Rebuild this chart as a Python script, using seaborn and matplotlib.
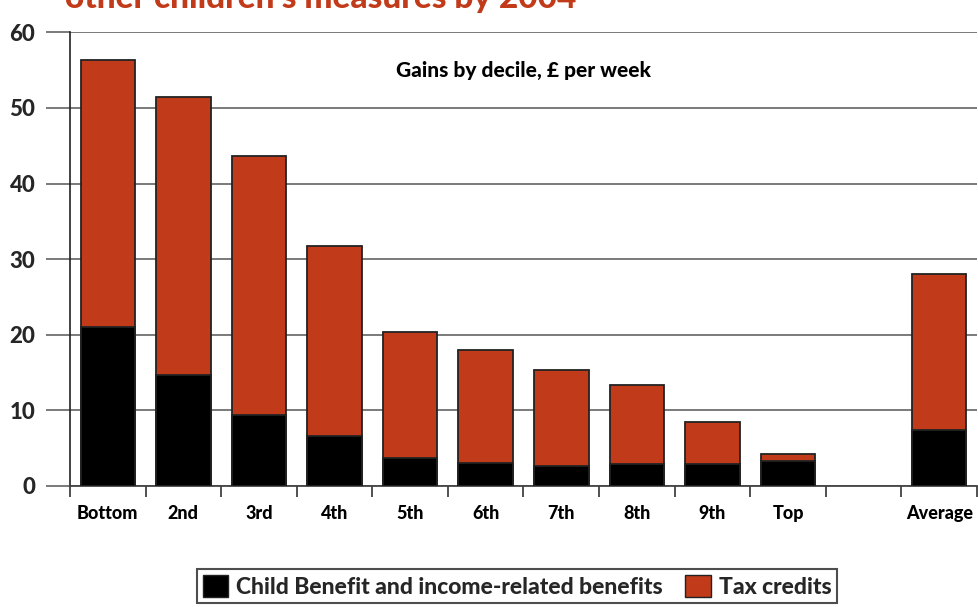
import matplotlib
matplotlib.use("Agg")
import matplotlib.pyplot as plt
import seaborn as sns
import pandas as pd
from matplotlib.patches import Patch
from matplotlib.ticker import FixedLocator

categories = ["Bottom", "2nd", "3rd", "4th", "5th", "6th", "7th", "8th", "9th", "Top", "Average"]
slot_order = ["Bottom", "2nd", "3rd", "4th", "5th", "6th", "7th", "8th", "9th", "Top", " ", "Average"]
benefits = [21.0, 14.7, 9.35, 6.6, 3.7, 3.0, 2.65, 2.85, 2.85, 3.3, 7.4]
tax_credits_total = [56.3, 51.5, 43.6, 31.8, 20.3, 18.0, 15.3, 13.4, 8.5, 4.2, 28.0]
y_ticks = [0, 10, 20, 30, 40, 50, 60]

ORANGE = "#C13A19"
FONT = ["Lato", "DejaVu Sans"]
W = "black"

sns.set_theme(style="white")
plt.rcParams["font.family"] = FONT
plt.rcParams["font.weight"] = W

df = pd.DataFrame({"cat": categories, "benefits": benefits, "total": tax_credits_total})

fig = plt.figure(figsize=(9.79, 6.07), dpi=100)
ax = fig.add_axes([70 / 979, 1 - 486 / 607, 907 / 979, (486 - 32.3) / 607])

sns.barplot(data=df, x="cat", y="total", order=slot_order, color=ORANGE, saturation=1,
            width=0.72, edgecolor="#222222", linewidth=1.3, ax=ax, zorder=3)
sns.barplot(data=df, x="cat", y="benefits", order=slot_order, color="black", saturation=1,
            width=0.72, edgecolor="#222222", linewidth=1.3, ax=ax, zorder=4)

ax.set_xlim(-0.5, len(slot_order) - 0.5)
ax.set_ylim(0, 60)
ax.set_xlabel("")
ax.set_ylabel("")

ax.yaxis.set_major_locator(FixedLocator(y_ticks))
ax.set_yticklabels([str(v) for v in y_ticks], fontsize=16, fontweight=W)
ax.grid(axis="y", color="#707070", linewidth=1.3, zorder=0)
ax.set_axisbelow(True)

labels = [c if c.strip() else "" for c in slot_order]
ax.set_xticks(range(len(slot_order)))
ax.set_xticklabels(labels, fontsize=13, fontweight=W)
ax.xaxis.set_minor_locator(FixedLocator([i - 0.5 for i in range(len(slot_order) + 1)]))
ax.tick_params(axis="x", which="major", length=0, pad=14, colors="black")
ax.tick_params(axis="x", which="minor", length=8, width=1.2, color="#333333", bottom=True)
ax.tick_params(axis="y", which="major", length=17, width=1.3, color="#707070", pad=8, left=True)

for s in ["top", "right"]:
    ax.spines[s].set_visible(False)
ax.spines["left"].set_color("#222222")
ax.spines["left"].set_linewidth(1.2)
ax.spines["bottom"].set_color("#444444")
ax.spines["bottom"].set_linewidth(1.3)

ax.text(0.5, 0.915, "Gains by decile, £ per week", transform=ax.transAxes, ha="center",
        va="center", fontsize=15, fontweight=W, color="black")

fig.text(65 / 979, 1 - 8 / 607, "other children's measures by 2004", ha="left", va="baseline",
         fontsize=24, fontweight=W, color=ORANGE)

handles = [Patch(facecolor="black", edgecolor="#222222", label="Child Benefit and income-related benefits"),
           Patch(facecolor=ORANGE, edgecolor="#222222", label="Tax credits")]
leg = fig.legend(handles=handles, loc="upper center", bbox_to_anchor=(0.528, 1 - 569 / 607), ncol=2,
                 frameon=True, fancybox=False, handlelength=1.1, handleheight=1.1,
                 handletextpad=0.35, columnspacing=1.0, borderpad=0.25, borderaxespad=0,
                 prop={"weight": W, "size": 16.5})
leg.get_frame().set_edgecolor("#222222")
leg.get_frame().set_linewidth(1.5)

fig.savefig("out.png", dpi=100)
